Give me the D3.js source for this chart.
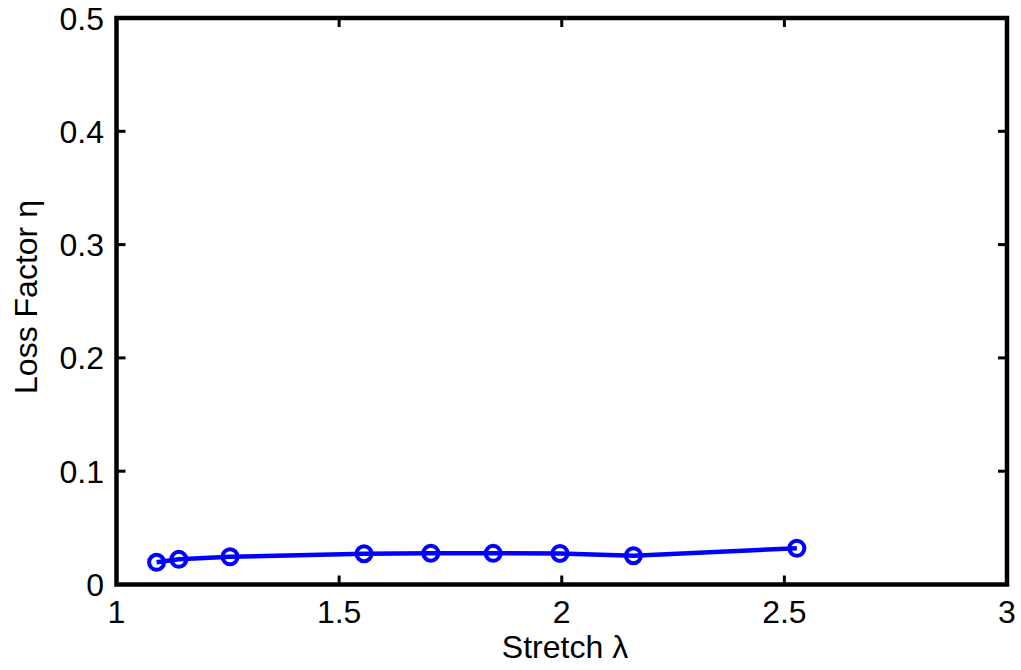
<!DOCTYPE html>
<html><head><meta charset="utf-8">
<script src="https://cdn.jsdelivr.net/npm/d3@7"></script>
<style>body{margin:0;background:#fff;} svg{display:block;} text{font-family:"Liberation Sans",Arial,sans-serif;}</style>
</head><body><svg id="c" width="1021" height="670"></svg>
<script>
const stretch = [1.09, 1.14, 1.255, 1.556, 1.706, 1.846, 1.996, 2.161, 2.528];
const lossFactor = [0.0196, 0.0222, 0.0245, 0.0272, 0.0276, 0.0275, 0.0274, 0.0254, 0.032];
const xTicks = [1, 1.5, 2, 2.5, 3];
const yTicks = [0, 0.1, 0.2, 0.3, 0.4, 0.5];

const svg = d3.select("#c");
const L = 116.5, R = 1007, T = 18, B = 584.5;
const x = d3.scaleLinear().domain([1, 3]).range([L, R]);
const y = d3.scaleLinear().domain([0, 0.5]).range([B, T]);
const fs = 32, tl = 9;

const g = svg.append("g");
xTicks.forEach(v => {
  g.append("line").attr("x1", x(v)).attr("x2", x(v)).attr("y1", B).attr("y2", B - tl).attr("stroke", "#000").attr("stroke-width", 3);
  g.append("line").attr("x1", x(v)).attr("x2", x(v)).attr("y1", T).attr("y2", T + tl).attr("stroke", "#000").attr("stroke-width", 3);
  g.append("text").attr("x", x(v)).attr("y", 623).attr("text-anchor", "middle").attr("font-size", fs).text(String(v));
});
yTicks.forEach(v => {
  g.append("line").attr("x1", L).attr("x2", L + tl).attr("y1", y(v)).attr("y2", y(v)).attr("stroke", "#000").attr("stroke-width", 3);
  g.append("line").attr("x1", R).attr("x2", R - tl).attr("y1", y(v)).attr("y2", y(v)).attr("stroke", "#000").attr("stroke-width", 3);
  g.append("text").attr("x", 104).attr("y", y(v)).attr("dy", "0.36em").attr("text-anchor", "end").attr("font-size", fs).text(String(v));
});
g.append("rect").attr("x", L).attr("y", T).attr("width", R - L).attr("height", B - T)
  .attr("fill", "none").attr("stroke", "#000").attr("stroke-width", 4.5);

const pts = stretch.map((s, i) => [s, lossFactor[i]]);
g.append("path").datum(pts).attr("fill", "none").attr("stroke", "#0000ff").attr("stroke-width", 4.5)
  .attr("stroke-linejoin", "round")
  .attr("d", d3.line().x(d => x(d[0])).y(d => y(d[1])));
g.selectAll("circle.m").data(pts).join("circle").attr("class", "m")
  .attr("cx", d => x(d[0])).attr("cy", d => y(d[1])).attr("r", 7.5)
  .attr("fill", "none").attr("stroke", "#0000ff").attr("stroke-width", 4);

g.append("text").attr("x", 565).attr("y", 658).attr("text-anchor", "middle").attr("font-size", fs).text("Stretch λ");
g.append("text").attr("transform", `translate(37,297) rotate(-90)`).attr("text-anchor", "middle").attr("font-size", fs).text("Loss Factor η");
</script></body></html>
